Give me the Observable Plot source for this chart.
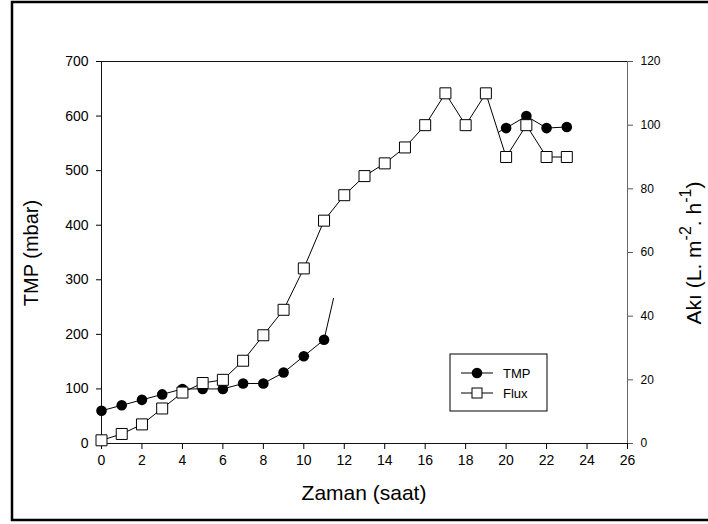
<!DOCTYPE html>
<html><head><meta charset="utf-8">
<script src="https://cdn.jsdelivr.net/npm/d3@7"></script>
<script src="https://cdn.jsdelivr.net/npm/@observablehq/plot@0.6"></script>
<style>body{margin:0;background:#fff} svg{font-family:"Liberation Sans",Arial,sans-serif}</style>
</head><body><div id="chart"></div>
<script>
// TMP (mbar), left axis
const tmpEarlyHours = [0,1,2,3,4,5,6,7,8,9,10,11];
const tmpEarly      = [60,70,80,90,100,100,100,110,110,130,160,190];
const tmpTailHours  = [11,11.47];
const tmpTail       = [190,266];
const tmpLeadHours  = [19.62,20];
const tmpLead       = [570,580];
const tmpLateHours  = [20,21,22,23];
const tmpLate       = [578,600,578,580];
// Flux (L m-2 h-1), right axis
const fluxHours = [0,1,2,3,4,5,6,7,8,9,10,11,12,13,14,15,16,17,18,19,20,21,22,23];
const flux      = [1,3,6,11,16,19,20,26,34,42,55,70,78,84,88,93,100,110,100,110,90,100,90,90];
const xTicks = [0,2,4,6,8,10,12,14,16,18,20,22,24,26];
const leftTicks = [0,100,200,300,400,500,600,700];
const rightTicks = [0,20,40,60,80,100,120];
const legendLabels = ["TMP","Flux"];

const k = 700/120; // flux -> TMP scale
const seg = (xs, ys) => xs.map((x,i)=>({x, y: ys[i]}));
const tmpE = seg(tmpEarlyHours, tmpEarly);
const tmpT = seg(tmpTailHours, tmpTail);
const tmpL0 = seg(tmpLeadHours, tmpLead);
const tmpL = seg(tmpLateHours, tmpLate);
const fx = fluxHours.map((x,i)=>({x, y: flux[i]*k}));

const plot = Plot.plot({
  width:708, height:524, marginLeft:101, marginRight:81, marginTop:61, marginBottom:81,
  style:{fontFamily:'"Liberation Sans",Arial,sans-serif', fontSize:"13px", color:"#000", background:"#fff"},
  x:{domain:[0,26]}, y:{domain:[0,700]},
  marks:[
    Plot.frame({stroke:"#111"}),
    Plot.axisX({ticks:xTicks, tickSize:6, tickPadding:6, fontSize:14, label:null}),
    Plot.axisY({ticks:leftTicks, tickSize:5, tickPadding:8, fontSize:14, label:null}),
    Plot.axisY({anchor:"right", ticks:rightTicks.map(v=>v*k), tickFormat:d=>Math.round(d/k), tickSize:5, tickPadding:8, fontSize:12, label:null, stroke:"#555"}),
    Plot.ruleX([26], {stroke:"#666"}),
    Plot.line(tmpE, {x:"x", y:"y", stroke:"#000", strokeWidth:1}),
    Plot.line(tmpT, {x:"x", y:"y", stroke:"#000", strokeWidth:1}),
    Plot.line(tmpL0, {x:"x", y:"y", stroke:"#000", strokeWidth:1}),
    Plot.line(tmpL, {x:"x", y:"y", stroke:"#000", strokeWidth:1}),
    Plot.dot(tmpE, {x:"x", y:"y", r:5.3, fill:"#000", stroke:"none"}),
    Plot.dot(tmpL, {x:"x", y:"y", r:5.3, fill:"#000", stroke:"none"}),
    Plot.line(fx, {x:"x", y:"y", stroke:"#000", strokeWidth:1}),
    Plot.dot(fx, {x:"x", y:"y", symbol:"square", r:6.2, fill:"#fff", stroke:"#000", strokeWidth:1})
  ]
});
document.getElementById("chart").appendChild(plot);

const svg = d3.select(plot);
// outer border
svg.append("path").attr("d","M720,2H12V520H720").attr("fill","none").attr("stroke","#000").attr("stroke-width",2.5);
// axis titles
svg.append("text").attr("transform","translate(38,253) rotate(-90)").attr("text-anchor","middle")
  .attr("font-size",20).text("TMP (mbar)");
svg.append("text").attr("x",364).attr("y",500).attr("text-anchor","middle").attr("font-size",21).text("Zaman (saat)");
const rt = svg.append("text").attr("transform","translate(701,253) rotate(-90)").attr("text-anchor","middle").attr("font-size",21);
rt.append("tspan").text("Akı (L. m");
rt.append("tspan").attr("font-size",16).attr("dy",-10).text("-2");
rt.append("tspan").attr("dy",10).text(". h");
rt.append("tspan").attr("font-size",16).attr("dy",-10).text("-1");
rt.append("tspan").attr("dy",10).text(")");
// legend
const lg = svg.append("g").attr("transform","translate(450,354)");
lg.append("rect").attr("width",97).attr("height",57).attr("fill","#fff").attr("stroke","#000");
legendLabels.forEach((lab,i)=>{
  const y = 19 + i*20;
  lg.append("line").attr("x1",11).attr("x2",43).attr("y1",y).attr("y2",y).attr("stroke","#000");
  if (i===0) lg.append("circle").attr("cx",27).attr("cy",y).attr("r",5.3).attr("fill","#000");
  else lg.append("rect").attr("x",22).attr("y",y-5).attr("width",10).attr("height",10).attr("fill","#fff").attr("stroke","#000");
  lg.append("text").attr("x",53).attr("y",y+4.5).attr("text-anchor","start").attr("font-size",13).text(lab);
});
</script></body></html>
